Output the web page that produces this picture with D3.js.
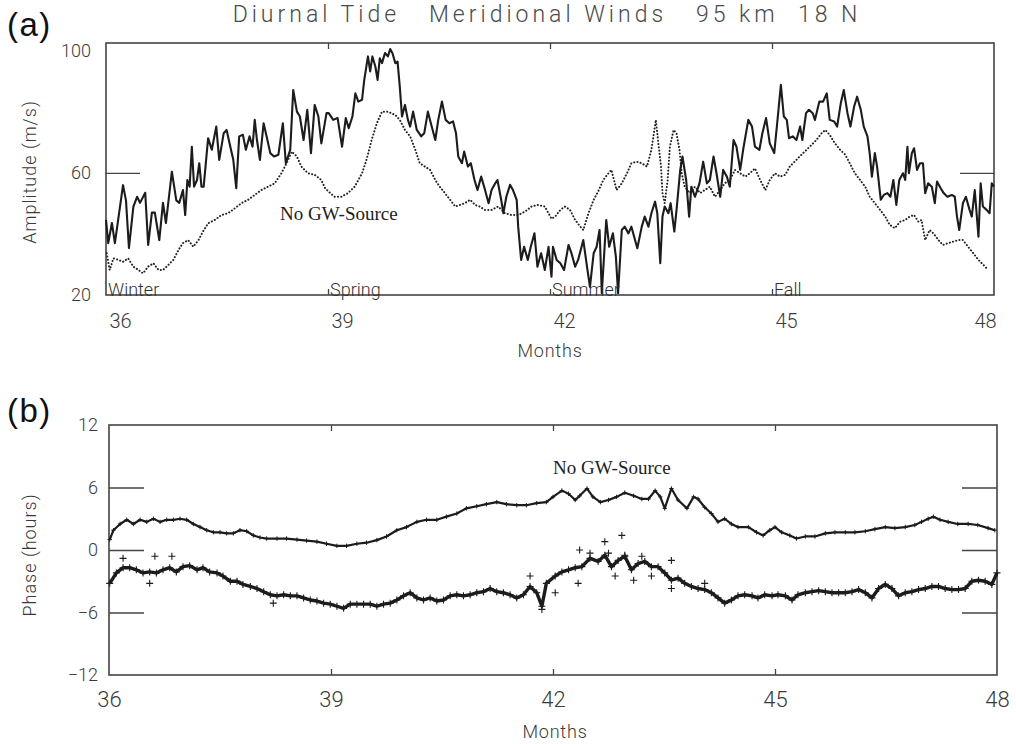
<!DOCTYPE html>
<html><head><meta charset="utf-8">
<script src="https://cdn.jsdelivr.net/npm/d3@7"></script>
<style>
html,body{margin:0;padding:0;background:#fff;}
svg{display:block;}
</style>
</head><body>
<svg id="chart" width="1016" height="744"></svg>
<script>
// ---------------- DATA ----------------
const titleText = "Diurnal Tide   Meridional Winds   95 km  18 N";
const monthTicks = [36, 39, 42, 45, 48];
const innerMonthTicks = [39, 42, 45];
const ampTicks = [20, 60, 100];
const phaseTicks = [-12, -6, 0, 6, 12];
const seasons = ["Winter", "Spring", "Summer", "Fall"];
const seasonMonths = [36, 39, 42, 45];

// (a) amplitude with GW source (solid)
const ampGwMonths = [36.00,36.03,36.08,36.12,36.17,36.23,36.27,36.31,36.37,36.42,36.46,36.53,36.57,36.62,36.66,36.72,36.77,36.81,36.89,36.95,36.99,37.04,37.07,37.10,37.13,37.16,37.19,37.23,37.26,37.29,37.32,37.38,37.43,37.49,37.53,37.59,37.63,37.68,37.72,37.76,37.80,37.85,37.89,37.94,37.98,38.01,38.04,38.08,38.13,38.17,38.22,38.27,38.33,38.39,38.43,38.49,38.53,38.58,38.62,38.67,38.72,38.77,38.82,38.87,38.91,38.98,
39.01,39.07,39.13,39.19,39.24,39.28,39.33,39.37,39.41,39.46,39.49,39.54,39.57,39.60,39.64,39.67,39.70,39.73,39.77,39.81,39.84,39.87,39.91,39.94,39.97,40.00,40.04,40.08,40.11,40.15,40.20,40.26,40.30,40.35,40.39,40.45,40.49,40.54,40.59,40.64,40.69,40.73,40.76,40.81,40.84,40.89,40.93,40.98,41.02,41.07,41.11,41.17,41.21,41.26,41.29,41.34,41.37,41.41,41.46,41.50,41.55,41.57,41.61,41.65,41.70,41.74,41.79,41.83,41.88,41.93,41.98,42.02,
42.04,42.09,42.14,42.19,42.25,42.29,42.34,42.38,42.45,42.50,42.54,42.59,42.63,42.67,42.70,42.76,42.80,42.85,42.89,42.92,42.97,43.01,43.06,43.10,43.18,43.24,43.28,43.33,43.37,43.42,43.45,43.49,43.52,43.55,43.60,43.63,43.68,43.71,43.76,43.79,43.84,43.88,43.91,43.96,44.02,44.07,44.12,44.16,44.21,44.25,44.30,44.34,44.39,44.43,44.48,44.52,44.57,44.61,44.68,44.73,44.77,44.83,44.87,44.92,44.97,
45.03,45.07,45.12,45.16,45.20,45.23,45.28,45.33,45.38,45.41,45.46,45.50,45.55,45.58,45.64,45.69,45.74,45.78,45.84,45.88,45.93,45.97,46.02,46.06,46.11,46.15,46.20,46.24,46.29,46.32,46.35,46.39,46.42,46.47,46.51,46.56,46.60,46.64,46.68,46.72,46.77,46.80,46.83,46.85,46.89,46.92,46.96,47.00,47.04,47.07,47.11,47.16,47.20,47.23,47.28,47.32,47.37,47.43,47.47,47.50,47.53,47.58,47.62,47.67,47.70,47.74,47.79,47.82,47.85,47.90,47.94,47.97,48.00];
const ampGw = [44.6,37,43.6,37,45.6,56,51,35.4,49,52.2,50.2,53.5,36.4,47,47,38,50.2,43.6,60.4,51,50.2,54.4,46.2,57.7,55.5,68.6,55.5,57.7,63.2,55.5,55.5,71.4,67.6,75.2,64.3,73,74.1,68.6,64.3,55,72,72.5,67.6,72,68.6,77.4,70.8,64.3,76.3,72,66.5,65.4,66,76.3,63.2,67.6,87.2,80.1,78.5,70.8,80.7,66.5,82.3,78.5,69.7,79.6,
79.6,77.4,78,68.6,78,74.7,78.5,86.1,83.4,84,90.5,98.2,93.3,98.2,94.9,90.5,97.6,96,99.3,98.2,100.6,99.3,96,96.5,88.3,78.5,82.3,77.4,75.2,80.1,74.1,72,73,80.1,76.3,70.8,77.4,83.4,77.4,76.3,76.9,73,65.4,63.2,67,62.1,63.2,57.7,54.4,58.8,55.5,50.1,54.4,56.6,57.7,51.2,46.8,52.2,56.1,54.4,51.2,42.4,31.5,35.8,31.5,35.8,40.2,29.3,33.7,28.2,35.8,26,
35.8,31.5,30.4,28.2,36.4,33.7,29.3,31.5,38,29.3,22.7,33.7,35.8,41.3,20.6,44.6,35.8,40.2,32.6,20.6,41.3,42.4,40.2,42.4,35.3,42.4,45.7,42.4,46.8,50.6,46.8,30.4,45.7,49,46.8,50.1,40.8,47.9,61,65.4,57.7,45.7,55.5,52.2,56.6,63.7,56.6,57.7,65.4,59.9,52.2,61,58.8,55.5,70.8,68.6,61,67.6,77.4,75.2,68.6,67.6,73,78,69.7,
66.5,76.3,88.9,78.5,77.4,71.4,72,70.8,75.2,70.8,79.6,80.7,79.6,77.4,83.4,83.4,86.1,77.4,76.9,75.2,82.9,87.2,79.6,75.2,81.8,85,80.7,75.2,72,66.5,58.8,66.5,62.1,51.2,52.8,53.4,52.2,57.7,49.5,57.7,59.9,57.7,68.6,59.9,66.5,68.1,61,63.2,63.2,53.4,56.6,55.5,50.1,57.2,55,53.4,52.2,52.8,52.2,45.7,41.3,50.1,52.2,47.9,45.7,54.4,39.1,56.6,49,47.9,46.8,56.6,55.5];

// (a) amplitude without GW source (dotted)
const ampNoGwMonths = [36.01,36.05,36.10,36.17,36.23,36.30,36.37,36.44,36.50,36.57,36.64,36.71,36.77,36.84,36.91,36.98,37.04,37.11,37.18,37.25,37.31,37.38,37.47,37.56,37.65,37.74,37.83,37.92,38.01,38.10,38.19,38.28,38.37,38.44,38.51,38.58,38.64,38.73,38.82,38.91,38.96,39.03,39.09,39.18,39.27,39.36,39.46,39.52,39.59,39.66,39.73,39.81,39.91,39.97,40.04,40.11,40.18,40.24,40.31,40.38,40.45,40.51,40.58,40.65,40.72,40.78,40.85,40.92,40.99,41.05,41.12,41.21,41.30,41.39,41.48,41.57,41.66,41.75,41.84,41.93,42.02,42.07,42.14,42.20,42.27,42.34,42.41,42.45,42.52,42.59,42.66,42.72,42.79,42.83,42.90,42.97,43.04,43.10,43.17,43.24,43.31,43.37,43.41,43.43,43.46,43.50,43.52,43.55,43.59,43.62,43.67,43.71,43.75,43.78,43.82,43.89,43.96,44.03,44.09,44.16,44.23,44.30,44.36,44.43,44.50,44.57,44.64,44.70,44.77,44.84,44.91,44.97,45.04,45.11,45.18,45.24,45.33,45.42,45.51,45.60,45.67,45.72,45.78,45.85,45.92,45.99,46.05,46.12,46.19,46.26,46.32,46.39,46.46,46.53,46.59,46.66,46.73,46.80,46.86,46.92,46.98,47.02,47.07,47.13,47.18,47.25,47.31,47.38,47.45,47.52,47.58,47.65,47.72,47.79,47.86,47.92];
const ampNoGw = [33.7,28.2,32,31.5,30.9,32,29.3,28.2,27.1,29.3,30.4,28.2,28.2,29.8,31.5,34.8,37,38,35.8,38,40.8,43.5,44.6,46.2,46.8,48.4,50.1,51.2,52.8,54.4,55.5,56.6,59.9,63.2,67,65.4,62.1,59.9,59.4,57.7,55,53.4,52.2,52.2,53.4,55.5,59.9,64.3,70.8,76.3,80.1,80.1,79,77.4,74.1,72,67.6,63.2,62.1,61,57.7,55.5,53.4,51.2,49,49.5,50.1,51.2,49.5,49,47.9,47.9,49,46.8,46.2,46.2,47.3,49,49.5,49,45,45.7,47.9,49,47.9,44.6,42.4,41.3,46.8,51.2,54.4,57.7,59.9,61,54.4,56.6,59.9,63.2,63.7,63.2,62.1,67.6,74.1,77.4,70.8,62.1,53.4,50.1,57.7,68.6,74.1,73,67.6,59.9,55.5,53.4,55.5,53.4,54.4,55.5,52.2,54.4,56.6,57.7,61,59.9,58.8,59.9,61.5,57.7,54.4,57.7,59.9,58.8,59.4,62.1,64.3,66.5,68.6,70.8,73,74.1,72.5,69.7,67.6,66,63.2,59.9,57.7,55.5,52.2,50.1,47.9,45.7,43,41.9,44,44.6,45.7,46.2,44,44.6,38,41.3,40.2,38,36.4,37,37.5,38,38,35.8,33.7,31.5,29.8,28.2];

// (b) phase without GW source (upper)
const phaseNoGwMonths = [36.01,36.06,36.15,36.24,36.33,36.42,36.51,36.60,36.69,36.78,36.87,36.96,37.05,37.14,37.23,37.32,37.41,37.50,37.59,37.68,37.77,37.86,37.95,38.04,38.13,38.27,38.40,38.54,38.67,38.81,38.94,39.08,39.21,39.35,39.48,39.62,39.75,39.89,40.02,40.16,40.29,40.43,40.56,40.70,40.83,40.97,41.10,41.24,41.37,41.51,41.64,41.78,41.91,42.00,42.12,42.21,42.30,42.36,42.46,42.54,42.64,42.75,42.86,42.97,43.09,43.20,43.29,43.38,43.45,43.51,43.60,43.69,43.81,43.90,43.96,44.05,44.14,44.23,44.32,44.41,44.50,44.64,44.75,44.84,44.93,45.00,45.09,45.20,45.29,45.41,45.54,45.68,45.81,45.95,46.08,46.22,46.35,46.49,46.62,46.76,46.89,46.98,47.07,47.14,47.23,47.34,47.47,47.61,47.74,47.88,47.97];
const phaseNoGw = [1.0,1.9,2.5,2.9,2.5,2.9,2.7,3.0,2.7,2.9,2.9,3.0,2.9,2.5,2.2,1.9,1.7,1.7,1.6,1.6,1.9,1.8,1.4,1.2,1.1,1.1,1.1,1.0,0.9,0.8,0.6,0.4,0.4,0.6,0.7,0.95,1.3,1.9,2.2,2.7,2.9,2.9,3.2,3.5,4.0,4.2,4.4,4.6,4.4,4.3,4.3,4.5,4.6,5.1,5.7,5.4,4.8,5.2,5.9,5.1,4.6,4.8,5.1,5.5,5.2,4.9,4.9,5.7,5.1,4.0,5.9,4.8,4.0,5.1,4.9,4.1,3.5,2.7,3.0,2.5,2.2,2.2,1.7,1.4,1.9,2.2,1.7,1.4,1.1,1.3,1.3,1.6,1.7,1.7,1.7,1.8,2.0,2.2,2.1,2.2,2.4,2.7,3.0,3.2,2.9,2.7,2.5,2.5,2.4,2.1,1.9];

// (b) phase with GW source (lower)
const phaseGwMonths = [36.01,36.10,36.19,36.28,36.37,36.46,36.55,36.64,36.73,36.82,36.91,37.00,37.09,37.19,37.27,37.36,37.46,37.54,37.64,37.73,37.81,37.91,38.00,38.09,38.18,38.27,38.36,38.45,38.54,38.63,38.72,38.81,38.90,38.99,39.08,39.17,39.26,39.35,39.44,39.53,39.62,39.71,39.80,39.89,39.98,40.07,40.16,40.25,40.34,40.43,40.52,40.61,40.70,40.79,40.88,40.97,41.06,41.15,41.24,41.33,41.42,41.51,41.60,41.69,41.78,41.85,41.91,42.03,42.12,42.21,42.30,42.39,42.50,42.61,42.70,42.79,42.88,42.97,43.06,43.15,43.24,43.33,43.42,43.51,43.60,43.69,43.78,43.87,43.96,44.05,44.14,44.23,44.32,44.41,44.50,44.59,44.69,44.77,44.86,44.96,45.04,45.14,45.23,45.31,45.41,45.50,45.59,45.68,45.77,45.86,45.95,46.04,46.13,46.22,46.31,46.40,46.49,46.58,46.67,46.76,46.85,46.94,47.03,47.12,47.21,47.30,47.39,47.48,47.57,47.66,47.75,47.84,47.93,48.00];
const phaseGw = [-3.2,-2.2,-1.7,-1.7,-1.9,-2.2,-2.1,-2.2,-1.9,-1.7,-2.1,-1.6,-1.5,-1.9,-1.7,-2.1,-2.2,-2.5,-3.0,-3.0,-3.3,-3.5,-3.7,-4.0,-4.3,-4.4,-4.3,-4.4,-4.4,-4.6,-4.8,-4.9,-5.1,-5.2,-5.4,-5.6,-5.2,-5.2,-5.2,-5.2,-5.4,-5.2,-5.1,-4.8,-4.4,-4.1,-4.6,-4.8,-4.6,-4.9,-4.8,-4.4,-4.3,-4.4,-4.3,-4.1,-4.0,-3.7,-4.0,-4.1,-4.3,-4.6,-4.3,-3.5,-4.1,-5.4,-3.2,-2.5,-2.1,-1.9,-1.7,-1.6,-0.8,-1.1,-0.5,-1.6,-1.0,-0.6,-1.9,-1.3,-1.1,-1.6,-1.6,-2.2,-2.9,-2.7,-3.2,-3.5,-3.7,-3.8,-4.1,-4.6,-5.1,-4.8,-4.4,-4.3,-4.4,-4.6,-4.3,-4.4,-4.3,-4.4,-4.8,-4.3,-4.1,-4.0,-3.9,-4.0,-4.1,-4.1,-4.1,-4.0,-3.8,-4.1,-4.6,-3.7,-3.3,-3.7,-4.4,-4.1,-4.0,-3.8,-3.7,-3.5,-3.5,-3.7,-3.8,-3.8,-3.7,-3.0,-2.9,-3.0,-3.3,-2.2];
// scattered individual crosses of the lower phase series
const phaseGwScatterMonths = [42.36,42.50,42.70,42.93,42.75,42.97,43.20,42.34,42.03,43.33,43.60,43.60,44.05,43.09,42.84,36.19,36.62,36.85,36.55,41.69,41.85,38.22];
const phaseGwScatter = [0.0,-0.3,0.8,1.4,-0.3,-0.5,-0.6,-3.2,-4.1,-2.5,-3.7,-1.0,-3.2,-2.9,-2.5,-0.8,-0.6,-0.6,-3.2,-2.5,-5.7,-5.1];

// ---------------- DRAWING ----------------
const svg = d3.select("#chart");
svg.append("rect").attr("width", 1016).attr("height", 744).attr("fill", "#fff");

const sansLight = "Roboto, 'DejaVu Sans', sans-serif";
const ink = "#1c1c1c";
const frameInk = "#444";
const textInk = "#3a3a3a";

const xA = d3.scaleLinear().domain([36, 48]).range([106, 994]);
const yA = d3.scaleLinear().domain([20, 102.6]).range([295, 43]);
const xB = d3.scaleLinear().domain([36, 48]).range([109, 997]);
const yB = d3.scaleLinear().domain([-12, 12]).range([675, 425]);

function zip(a, b) { const n = Math.min(a.length, b.length); const r = []; for (let i = 0; i < n; i++) r.push([a[i], b[i]]); return r; }

// Title: fit the reference width (232 → 862) by adjusting letter spacing
const title = svg.append("text")
  .attr("x", 547).attr("y", 22)
  .attr("text-anchor", "middle")
  .style("white-space", "pre")
  .attr("font-family", sansLight).attr("font-weight", 300)
  .attr("font-size", 23).attr("fill", "#4a4a4a")
  .text(titleText);
{
  const len = title.node().getComputedTextLength();
  const ls = (630 - len) / titleText.length;
  title.attr("letter-spacing", Math.max(0, Math.min(4, ls)));
}

function styleAxis(g, size, color) {
  g.select(".domain").remove();
  g.selectAll("line").attr("stroke", frameInk).attr("stroke-width", 1.3);
  g.selectAll("text").attr("font-family", sansLight).attr("font-weight", 300)
    .attr("font-size", size).attr("fill", color || textInk);
}

function drawPanel(x, y, cfg) {
  const g = svg.append("g");
  const [x0, x1] = x.range();
  const [yb, yt] = y.range();
  // frame
  g.append("rect").attr("x", x0).attr("y", yt).attr("width", x1 - x0).attr("height", yb - yt)
    .attr("fill", "none").attr("stroke", frameInk).attr("stroke-width", 1.6);
  // inner ticks
  styleAxis(g.append("g").attr("transform", `translate(0,${yt})`)
    .call(d3.axisTop(x).tickValues(innerMonthTicks).tickSize(-cfg.smallTick).tickFormat("")), 12);
  styleAxis(g.append("g").attr("transform", `translate(0,${yb})`)
    .call(d3.axisBottom(x).tickValues(innerMonthTicks).tickSize(-cfg.smallTick).tickFormat("")), 12);
  styleAxis(g.append("g").attr("transform", `translate(${x0},0)`)
    .call(d3.axisLeft(y).tickValues(cfg.longTicks).tickSize(-cfg.longTick).tickFormat("")), 12);
  styleAxis(g.append("g").attr("transform", `translate(${x1},0)`)
    .call(d3.axisRight(y).tickValues(cfg.longTicks).tickSize(-cfg.longTick).tickFormat("")), 12);
  // labels
  const yl = g.append("g").attr("transform", `translate(${x0},0)`)
    .call(d3.axisLeft(y).tickValues(cfg.yTicks).tickSize(0).tickPadding(cfg.yPad));
  styleAxis(yl, cfg.yFont);
  const xl = g.append("g").attr("transform", `translate(0,${yb})`)
    .call(d3.axisBottom(x).tickValues(monthTicks).tickSize(0).tickPadding(cfg.xPad).tickFormat(d3.format("d")));
  styleAxis(xl, cfg.xFont);
  if (cfg.xShift) xl.selectAll("text").attr("dx", cfg.xShift);
  // axis titles
  g.append("text").attr("x", (x0 + x1) / 2 + cfg.monthsDx).attr("y", cfg.monthsY)
    .attr("text-anchor", "middle").attr("font-family", sansLight).attr("font-weight", 300)
    .attr("font-size", 18).attr("fill", textInk).attr("letter-spacing", 0.8).text("Months");
  g.append("text").attr("transform", `translate(36,${cfg.yTitleY}) rotate(-90)`)
    .attr("text-anchor", "middle").attr("font-family", sansLight).attr("font-weight", 300)
    .attr("font-size", 18).attr("fill", textInk).attr("letter-spacing", 1).text(cfg.yTitle);
  // panel letter
  g.append("text").attr("x", 7).attr("y", cfg.letterY)
    .attr("font-family", "'Liberation Sans', Arial, sans-serif").attr("font-size", 33)
    .attr("letter-spacing", 1.5).attr("fill", "#111").text(cfg.letter);
  return g;
}

// ----- Panel (a)
const gA = drawPanel(xA, yA, {
  smallTick: 6, longTick: 34, longTicks: [60], yTicks: ampTicks, yPad: 15, yFont: 18,
  xPad: 19, xFont: 20, xShift: d => d === 48 ? -9 : 14,
  monthsDx: 0, monthsY: 357, yTitle: "Amplitude (m/s)", yTitleY: 172, letter: "(a)", letterY: 36
});

const lineA = d3.line().x(d => xA(d[0])).y(d => yA(d[1]));
gA.append("path").datum(zip(ampNoGwMonths, ampNoGw)).attr("d", lineA)
  .attr("fill", "none").attr("stroke", "#222").attr("stroke-width", 2)
  .attr("stroke-dasharray", "0.1,3.2").attr("stroke-linecap", "round");
gA.append("path").datum(zip(ampGwMonths, ampGw)).attr("d", lineA)
  .attr("fill", "none").attr("stroke", ink).attr("stroke-width", 2.1)
  .attr("stroke-linejoin", "round");

gA.selectAll(".season").data(seasons).join("text")
  .attr("x", (d, i) => xA(seasonMonths[i]) + 2).attr("y", 296)
  .attr("font-family", sansLight).attr("font-weight", 300).attr("font-size", 18)
  .attr("fill", "#333").text(d => d);

gA.append("text").attr("x", 280).attr("y", 220)
  .attr("font-family", "'Liberation Serif', 'Times New Roman', serif").attr("font-size", 19)
  .attr("fill", "#222").text("No GW-Source");

// ----- Panel (b)
const gB = drawPanel(xB, yB, {
  smallTick: 6, longTick: 35, longTicks: [-6, 0, 6], yTicks: phaseTicks, yPad: 11, yFont: 18,
  xPad: 16, xFont: 22, xShift: 0,
  monthsDx: 2, monthsY: 738, yTitle: "Phase (hours)", yTitleY: 555, letter: "(b)", letterY: 422
});

const lineB = d3.line().x(d => xB(d[0])).y(d => yB(d[1]));
const crossPath = s => `M${-s},0H${s}M0,${-s}V${s}`;

gB.append("path").datum(zip(phaseNoGwMonths, phaseNoGw)).attr("d", lineB)
  .attr("fill", "none").attr("stroke", ink).attr("stroke-width", 2.2).attr("stroke-linejoin", "round");
gB.selectAll(".pu").data(zip(phaseNoGwMonths, phaseNoGw)).join("path")
  .attr("transform", d => `translate(${xB(d[0])},${yB(d[1])})`)
  .attr("d", crossPath(2.2)).attr("stroke", ink).attr("stroke-width", 1).attr("fill", "none");

gB.append("path").datum(zip(phaseGwMonths, phaseGw)).attr("d", lineB)
  .attr("fill", "none").attr("stroke", ink).attr("stroke-width", 3.4).attr("stroke-linejoin", "round");
gB.selectAll(".pl").data(zip(phaseGwMonths, phaseGw).concat(zip(phaseGwScatterMonths, phaseGwScatter))).join("path")
  .attr("transform", d => `translate(${xB(d[0])},${yB(d[1])})`)
  .attr("d", crossPath(3.5)).attr("stroke", ink).attr("stroke-width", 1.1).attr("fill", "none");

gB.append("text").attr("x", 553).attr("y", 474)
  .attr("font-family", "'Liberation Serif', 'Times New Roman', serif").attr("font-size", 19)
  .attr("fill", "#222").text("No GW-Source");
</script>
</body></html>
